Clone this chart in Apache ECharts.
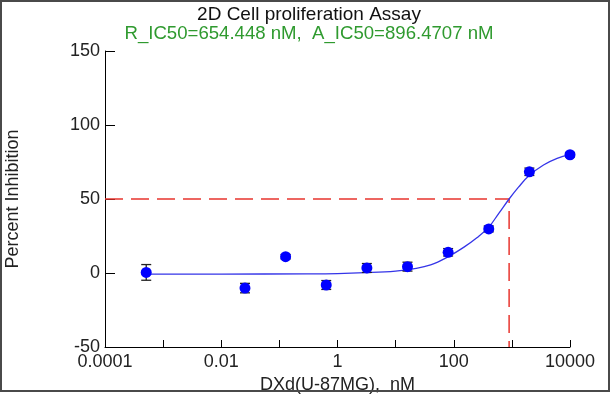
<!DOCTYPE html>
<html><head><meta charset="utf-8">
<script src="https://cdn.jsdelivr.net/npm/echarts@6/dist/echarts.min.js"></script>
<style>html,body{margin:0;padding:0;background:#fff}#c{width:613px;height:395px}</style>
</head><body><div id="c"></div>
<script>
// Measured points: concentration (nM), percent inhibition, error (+/-)
const concentrations = [0.000512, 0.0256, 0.128, 0.64, 3.2, 16, 80, 400, 2000, 10000];
const inhibition     = [0.4, -10.2, 11.0, -8.1, 3.4, 4.3, 14.0, 29.8, 68.4, 79.9];
const errors         = [5.3, 3.2, 1.5, 3.0, 3.0, 3.0, 2.5, 2.0, 2.5, 1.5];
// Fitted curve
const curveConc = [0.000512, 0.01, 0.3, 1, 3, 10, 20, 40, 80, 150, 250, 400, 600, 896.4707, 1300, 2000, 3500, 6000, 10000];
const curveY    = [-0.7, -0.7, -0.6, -0.4, 0.2, 1.3, 2.8, 5.5, 11, 17.5, 23.8, 31, 40.5, 50, 58, 66, 73, 77.5, 80];
// IC50 guide line
const guideX = [0.0001, 896.4707, 896.4707];
const guideY = [50, 50, -50];
const xTickLabels = ['0.0001', '0.01', '1', '100', '10000'];
const titleText = '2D Cell proliferation Assay';
const subtitleText = 'R_IC50=654.448 nM,  A_IC50=896.4707 nM';

const FONT = 'Liberation Sans, Arial, sans-serif';
const chart = echarts.init(document.getElementById('c'), null, {renderer: 'canvas'});
const pts = concentrations.map((c, i) => [c, inhibition[i], errors[i]]);
const curve = curveConc.map((c, i) => [c, curveY[i]]);
const guide = guideX.map((x, i) => [x, guideY[i]]);

chart.setOption({
  animation: false,
  backgroundColor: '#fff',
  title: [
    {text: titleText, left: 304, top: 0, textAlign: 'center',
     textStyle: {fontFamily: FONT, fontSize: 19, fontWeight: 'normal', color: '#111'}},
    {text: subtitleText, left: 304, top: 19, textAlign: 'center',
     textStyle: {fontFamily: FONT, fontSize: 18.6, fontWeight: 'normal', color: '#2f9a2f'}}
  ],
  graphic: [{type: 'rect', shape: {x: 1, y: 1, width: 608, height: 390},
    style: {fill: 'none', stroke: '#4a4a4a', lineWidth: 2}, silent: true, z: 100}],
  grid: {left: 105, right: 43, top: 51, bottom: 48, containLabel: false, outerBoundsMode: 'none'},
  xAxis: {
    type: 'log', logBase: 10, min: 0.0001, max: 10000, interval: 1,
    name: 'DXd(U-87MG),  nM', nameLocation: 'middle', nameGap: 24,
    nameTextStyle: {fontFamily: FONT, fontSize: 18, color: '#222'},
    axisLine: {onZero: false, lineStyle: {color: '#000', width: 1}},
    axisTick: {inside: true, length: 7, lineStyle: {color: '#000'}},
    axisLabel: {fontFamily: FONT, fontSize: 18, color: '#222', margin: 6,
      formatter: v => { const e = Math.round(Math.log10(v)); return (e % 2 === 0) ? xTickLabels[(e + 4) / 2] : ''; }},
    splitLine: {show: false}, minorTick: {show: false}
  },
  yAxis: {
    type: 'value', min: -50, max: 150, interval: 50,
    name: 'Percent Inhibition', nameLocation: 'middle', nameGap: 83,
    nameTextStyle: {fontFamily: FONT, fontSize: 18, color: '#222'},
    axisLine: {onZero: false, show: true, lineStyle: {color: '#000', width: 1}},
    axisTick: {show: true, inside: true, length: 10, lineStyle: {color: '#000'}},
    axisLabel: {fontFamily: FONT, fontSize: 18, color: '#222', margin: 5},
    splitLine: {show: false}
  },
  series: [
    {type: 'line', data: guide, showSymbol: false, silent: true, z: 1,
     lineStyle: {color: '#e8352e', width: 1.5, type: [18, 8]}},
    {type: 'line', data: curve, showSymbol: false, smooth: 0.4, z: 2,
     lineStyle: {color: '#3535e8', width: 1.3}},
    {type: 'custom', data: pts, z: 3,
     renderItem: (params, api) => {
       const x = api.value(0), y = api.value(1), e = api.value(2);
       const t = api.coord([x, y + e]), b = api.coord([x, y - e]);
       const hw = 5, st = {stroke: '#222', lineWidth: 1.3};
       return {type: 'group', children: [
         {type: 'line', shape: {x1: t[0], y1: t[1], x2: b[0], y2: b[1]}, style: st},
         {type: 'line', shape: {x1: t[0] - hw, y1: t[1], x2: t[0] + hw, y2: t[1]}, style: st},
         {type: 'line', shape: {x1: b[0] - hw, y1: b[1], x2: b[0] + hw, y2: b[1]}, style: st}
       ]};
     }},
    {type: 'scatter', data: pts.map(p => [p[0], p[1]]), symbol: 'circle', symbolSize: 11, z: 4,
     itemStyle: {color: '#0000ff', opacity: 1}}
  ]
});
</script></body></html>
